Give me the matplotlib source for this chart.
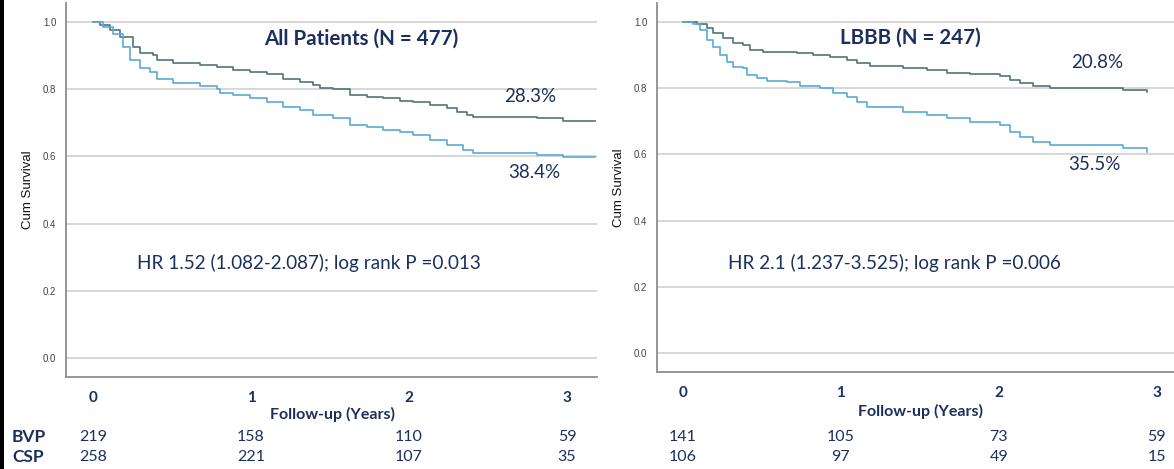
import matplotlib
matplotlib.use("Agg")
import matplotlib.pyplot as plt
from matplotlib.patches import Rectangle

W, H = 1174, 469
NAVY = "#1d2f5e"
DARK = "#4f7774"
LIGHT = "#5aaad6"
GRID = "#cdcdcd"
SPINE = "#8e8e8e"

# ---- Kaplan-Meier step data (years, cumulative survival) ----
# All patients
all_csp_t = [0.0, 0.044, 0.108, 0.171, 0.255, 0.297, 0.382, 0.403, 0.508, 0.677, 0.783, 0.888,
             0.994, 1.099, 1.204, 1.310, 1.394, 1.437, 1.521, 1.627, 1.732, 1.838, 1.943, 2.027,
             2.133, 2.239, 2.302, 2.365, 2.407, 2.808, 2.977, 3.177]
all_csp_s = [1.0, 0.991, 0.976, 0.956, 0.927, 0.907, 0.902, 0.887, 0.877, 0.872, 0.867, 0.857,
             0.852, 0.845, 0.832, 0.822, 0.812, 0.803, 0.800, 0.783, 0.778, 0.773, 0.766, 0.763,
             0.753, 0.743, 0.733, 0.723, 0.718, 0.713, 0.706, 0.706]
all_bvp_t = [0.0, 0.065, 0.128, 0.192, 0.234, 0.297, 0.361, 0.403, 0.508, 0.677, 0.783, 0.804,
             0.888, 0.994, 1.099, 1.204, 1.310, 1.394, 1.521, 1.627, 1.732, 1.838, 1.943, 2.027,
             2.133, 2.239, 2.344, 2.407, 2.808, 2.977, 3.177]
all_bvp_s = [1.0, 0.986, 0.966, 0.927, 0.887, 0.862, 0.852, 0.832, 0.820, 0.810, 0.800, 0.788,
             0.783, 0.773, 0.763, 0.748, 0.738, 0.723, 0.713, 0.693, 0.687, 0.679, 0.672, 0.664,
             0.649, 0.634, 0.619, 0.609, 0.604, 0.597, 0.597]

# LBBB subgroup
lbbb_csp_t = [0.0, 0.087, 0.150, 0.192, 0.255, 0.319, 0.382, 0.424, 0.509, 0.720, 0.825, 0.931,
              1.037, 1.100, 1.184, 1.395, 1.543, 1.670, 1.818, 2.008, 2.071, 2.134, 2.219, 2.324,
              2.789, 2.937]
lbbb_csp_s = [1.0, 0.994, 0.981, 0.966, 0.951, 0.936, 0.931, 0.915, 0.910, 0.905, 0.900, 0.895,
              0.885, 0.877, 0.867, 0.860, 0.855, 0.847, 0.843, 0.837, 0.825, 0.815, 0.807, 0.800,
              0.795, 0.789]
lbbb_bvp_t = [0.0, 0.065, 0.108, 0.150, 0.192, 0.234, 0.277, 0.319, 0.382, 0.403, 0.467, 0.530,
              0.657, 0.741, 0.868, 0.952, 1.037, 1.100, 1.163, 1.395, 1.543, 1.670, 1.818, 2.008,
              2.071, 2.134, 2.219, 2.324, 2.789, 2.937]
lbbb_bvp_s = [1.0, 0.994, 0.976, 0.946, 0.925, 0.900, 0.880, 0.865, 0.860, 0.840, 0.830, 0.823,
              0.817, 0.807, 0.800, 0.785, 0.774, 0.759, 0.744, 0.729, 0.719, 0.709, 0.699, 0.689,
              0.669, 0.653, 0.638, 0.628, 0.618, 0.608]

years = [0, 1, 2, 3]
all_risk_bvp = [219, 158, 110, 59]
all_risk_csp = [258, 221, 107, 35]
lbbb_risk_bvp = [141, 105, 73, 59]
lbbb_risk_csp = [106, 97, 49, 15]

panels = [
    dict(title="All Patients (N = 477)", hr="HR 1.52 (1.082-2.087); log rank P =0.013",
         up="28.3%", low="38.4%", ct=all_csp_t, cs=all_csp_s, bt=all_bvp_t, bs=all_bvp_s,
         rb=all_risk_bvp, rc=all_risk_csp),
    dict(title="LBBB (N = 247)", hr="HR 2.1 (1.237-3.525); log rank P =0.006",
         up="20.8%", low="35.5%", ct=lbbb_csp_t, cs=lbbb_csp_s, bt=lbbb_bvp_t, bs=lbbb_bvp_s,
         rb=lbbb_risk_bvp, rc=lbbb_risk_csp),
]

fig = plt.figure(figsize=(W / 100, H / 100), dpi=100)
fig.patch.set_facecolor("white")


def box(x0, y0, x1, y1):
    return [x0 / W, 1 - y1 / H, (x1 - x0) / W, (y1 - y0) / H]


def ftext(x, y, s, **kw):
    fig.text(x / W, 1 - y / H, s, **kw)


axes_boxes = [box(66, 3, 597, 377), box(657, 3, 1174, 372)]
xlims = [(-0.171, 3.19), (-0.165, 3.11)]

label_font = ["Lato", "DejaVu Sans"]

for p, rect, xl in zip(panels, axes_boxes, xlims):
    ax = fig.add_axes(rect)
    ax.set_xlim(*xl)
    ax.set_ylim(-0.057, 1.057)
    for sp in ("top", "right"):
        ax.spines[sp].set_visible(False)
    for sp in ("left", "bottom"):
        ax.spines[sp].set_color(SPINE)
        ax.spines[sp].set_linewidth(1.3)
    ax.set_yticks([0.0, 0.2, 0.4, 0.6, 0.8, 1.0])
    ax.set_yticklabels(["0.0", "0.2", "0.4", "0.6", "0.8", "1.0"],
                       fontsize=7, color="#444444", family="Liberation Sans")
    ax.tick_params(axis="y", length=0, pad=7)
    ax.yaxis.grid(True, color=GRID, linewidth=1.1)
    ax.set_axisbelow(True)
    ax.set_xticks(years)
    ax.set_xticklabels([str(y) for y in years], fontsize=11, fontweight="bold",
                       color=NAVY, family=label_font)
    ax.tick_params(axis="x", length=0, pad=10)
    ax.set_ylabel("Cum Survival", fontsize=9.5, family="Liberation Sans", color="#111111",
                  labelpad=6)
    ax.step(p["ct"], p["cs"], where="post", color=DARK, linewidth=1.2)
    ax.step(p["bt"], p["bs"], where="post", color=LIGHT, linewidth=1.2)
    p["ax"] = ax

# panel annotations
ftext(361, 39, panels[0]["title"], ha="center", va="center", fontsize=14.8,
      fontweight="bold", color=NAVY, family=label_font)
ftext(530, 97, panels[0]["up"], ha="center", va="center", fontsize=13.5, color=NAVY, family=label_font)
ftext(534, 172, panels[0]["low"], ha="center", va="center", fontsize=13.5, color=NAVY, family=label_font)
ftext(137, 263, panels[0]["hr"], ha="left", va="center", fontsize=13.6, color=NAVY, family=label_font)

ftext(910, 38, panels[1]["title"], ha="center", va="center", fontsize=14.8,
      fontweight="bold", color=NAVY, family=label_font)
ftext(1097, 63, panels[1]["up"], ha="center", va="center", fontsize=13.5, color=NAVY, family=label_font)
ftext(1094, 165, panels[1]["low"], ha="center", va="center", fontsize=13.5, color=NAVY, family=label_font)
ftext(728, 263, panels[1]["hr"], ha="left", va="center", fontsize=13.6, color=NAVY, family=label_font)

# x-axis titles
ftext(333, 414, "Follow-up (Years)", ha="center", va="center", fontsize=11.5,
      fontweight="bold", color=NAVY, family=label_font)
ftext(921, 411, "Follow-up (Years)", ha="center", va="center", fontsize=11.5,
      fontweight="bold", color=NAVY, family=label_font)

# numbers at risk
ftext(12, 437, "BVP", ha="left", va="center", fontsize=12.5, fontweight="bold", color=NAVY, family=label_font)
ftext(12, 457, "CSP", ha="left", va="center", fontsize=12.5, fontweight="bold", color=NAVY, family=label_font)
for p in panels:
    ax = p["ax"]
    for t, nb, nc in zip(years, p["rb"], p["rc"]):
        xp = ax.transData.transform((t, 0))[0]
        fig.text(xp / fig.bbox.width, 1 - 437 / H, str(nb), ha="center", va="center",
                 fontsize=11.5, color=NAVY, family=label_font)
        fig.text(xp / fig.bbox.width, 1 - 457 / H, str(nc), ha="center", va="center",
                 fontsize=11.5, color=NAVY, family=label_font)

# left frame bar
fig.patches.append(Rectangle((0, 0), 4 / W, 1, transform=fig.transFigure,
                             facecolor="black", edgecolor="none"))

fig.savefig("out.png", dpi=100, facecolor="white")
